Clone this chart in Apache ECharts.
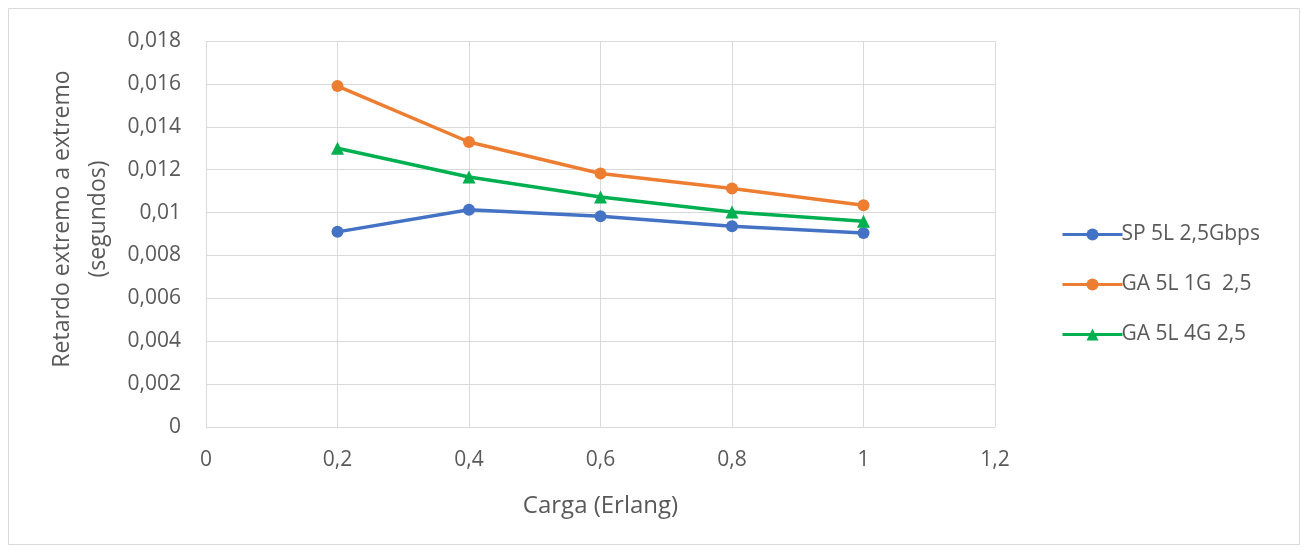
<!DOCTYPE html>
<html><head><meta charset="utf-8">
<script src="https://cdn.jsdelivr.net/npm/echarts@6/dist/echarts.min.js"></script>
<style>html,body{margin:0;padding:0;background:#fff}#c{width:1308px;height:552px}</style>
</head><body><div id="c"></div>
<script>
var xValues = [0.2, 0.4, 0.6, 0.8, 1.0];
var seriesNames = ['SP 5L 2,5Gbps', 'GA 5L 1G  2,5', 'GA 5L 4G 2,5'];
var spValues = [0.0091, 0.01013, 0.00983, 0.00936, 0.00905];
var ga1Values = [0.0159, 0.01329, 0.01182, 0.01112, 0.01034];
var ga4Values = [0.0130, 0.01166, 0.01073, 0.01003, 0.0096];
var xTickLabels = ['0', '0,2', '0,4', '0,6', '0,8', '1', '1,2'];
var yTickLabels = ['0', '0,002', '0,004', '0,006', '0,008', '0,01', '0,012', '0,014', '0,016', '0,018'];

function pairs(vals){ return xValues.map(function(x,i){ return [x, vals[i]]; }); }
var chart = echarts.init(document.getElementById('c'));
var font = 'Open Sans';
var txt = '#595959';
chart.setOption({
  backgroundColor: '#fff',
  animation: false,
  graphic: [{type:'rect', shape:{x:8.5,y:8.5,width:1291,height:536}, style:{fill:'none', stroke:'#d9d9d9', lineWidth:1}, silent:true}],
  grid: {left: 206, right: 313, top: 41, bottom: 125},
  legend: {
    orient: 'vertical', left: 1056, top: 219, itemGap: 29, itemWidth: 60, itemHeight: 15,
    lineStyle: {width: 3},
    textStyle: {fontFamily: font, fontSize: 21, color: txt, padding:[0,0,0,-6]},
    data: seriesNames
  },
  xAxis: {
    type: 'value', min: 0, max: 1.2, interval: 0.2,
    name: 'Carga (Erlang)', nameLocation: 'middle', nameGap: 67,
    nameTextStyle: {fontFamily: font, fontSize: 24, color: txt},
    axisLine: {show: false}, axisTick: {show: false},
    axisLabel: {fontFamily: font, fontSize: 21, color: txt, margin: 23,
      formatter: function(v){ return xTickLabels[Math.round(v/0.2)]; }},
    splitLine: {show: true, lineStyle: {color: '#d9d9d9', width: 1}}
  },
  yAxis: {
    type: 'value', min: 0, max: 0.018, interval: 0.002,
    name: 'Retardo extremo a extremo\n(segundos)', nameLocation: 'middle', nameGap: 88, nameRotate: 90,
    nameTextStyle: {fontFamily: font, fontSize: 23, color: txt, lineHeight: 36, align: 'center', padding: [0, 0, 0, 30]},
    axisLine: {show: false}, axisTick: {show: false},
    axisLabel: {fontFamily: font, fontSize: 21, color: txt, margin: 25,
      formatter: function(v){ return yTickLabels[Math.round(v/0.002)]; }},
    splitLine: {show: true, lineStyle: {color: '#d9d9d9', width: 1}}
  },
  series: [
    {name: seriesNames[0], type: 'line', data: pairs(spValues), symbol: 'circle', symbolSize: 12,
      lineStyle: {width: 3.5, color: '#4472C4'}, itemStyle: {color: '#4472C4'}},
    {name: seriesNames[1], type: 'line', data: pairs(ga1Values), symbol: 'circle', symbolSize: 12,
      lineStyle: {width: 3.5, color: '#ED7D31'}, itemStyle: {color: '#ED7D31'}},
    {name: seriesNames[2], type: 'line', data: pairs(ga4Values), symbol: 'triangle', symbolSize: 13,
      lineStyle: {width: 3.5, color: '#00B050'}, itemStyle: {color: '#00B050'}}
  ]
});
</script></body></html>
